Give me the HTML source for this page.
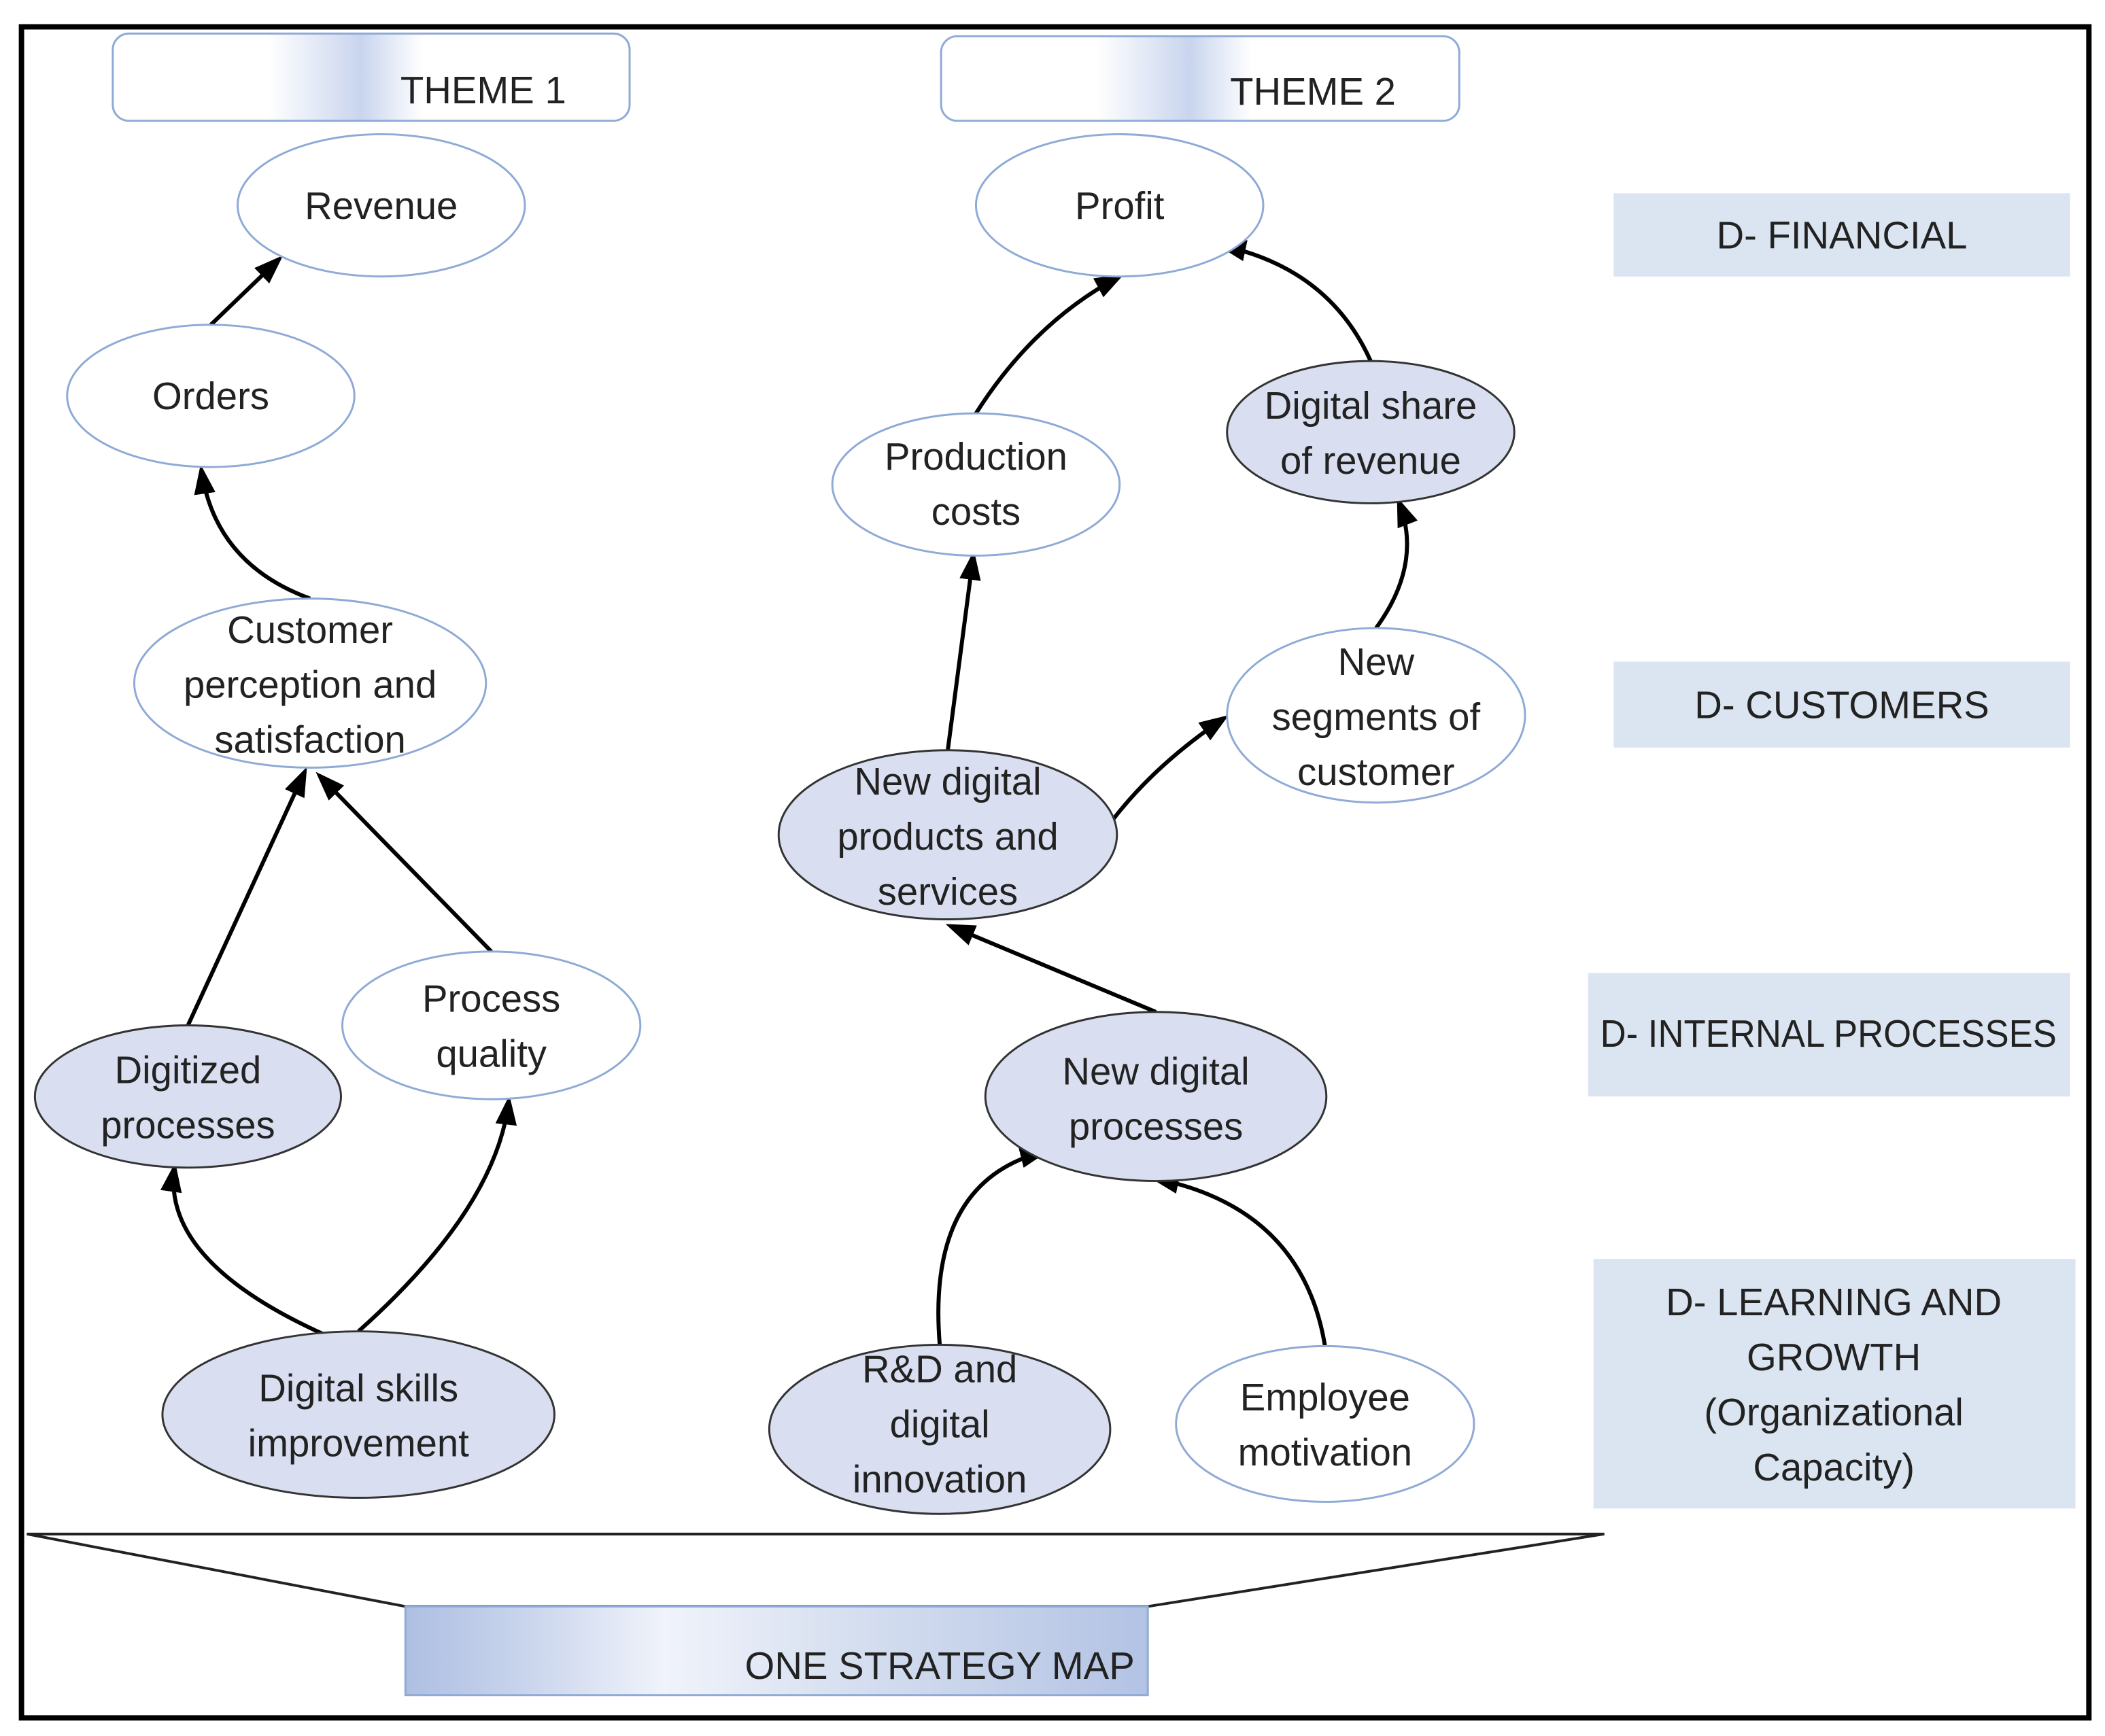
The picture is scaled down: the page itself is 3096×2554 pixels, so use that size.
<!DOCTYPE html>
<html><head><meta charset="utf-8"><style>
html,body{margin:0;padding:0;background:#fff}
svg{display:block}
text{font-family:"Liberation Sans",sans-serif;fill:#222;font-size:28.5px;text-anchor:middle}
</style></head><body>
<svg width="3096" height="2554" viewBox="0 0 1568 1293.5" preserveAspectRatio="none" xmlns="http://www.w3.org/2000/svg">
<defs>
<marker id="a" markerWidth="22" markerHeight="16" refX="18" refY="8" orient="auto" markerUnits="userSpaceOnUse"><path d="M0,0 L22,8 L0,16 z" fill="#000"/></marker>
<linearGradient id="g1" x1="0" x2="1"><stop offset="0" stop-color="#fff"/><stop offset="0.3" stop-color="#fff"/><stop offset="0.48" stop-color="#c9d5ee"/><stop offset="0.6" stop-color="#fff"/><stop offset="1" stop-color="#fff"/></linearGradient>
<linearGradient id="g2" x1="0" x2="1"><stop offset="0" stop-color="#aebfe2"/><stop offset="0.15" stop-color="#c7d3ec"/><stop offset="0.35" stop-color="#f0f3fa"/><stop offset="0.6" stop-color="#d6dff0"/><stop offset="1" stop-color="#b3c3e4"/></linearGradient>
</defs>
<rect x="16" y="20" width="1540" height="1260" fill="#fff" stroke="#000" stroke-width="4"/>
<rect x="84" y="25" width="385" height="65" rx="12" fill="url(#g1)" stroke="#8eaad6" stroke-width="1.5"/>
<text x="360" y="77">THEME 1</text>
<rect x="701" y="27" width="386" height="63" rx="12" fill="url(#g1)" stroke="#8eaad6" stroke-width="1.5"/>
<text x="978" y="78">THEME 2</text>
<rect x="1202" y="144" width="340" height="62" fill="#dbe5f1"/>
<text x="1372" y="185">D- FINANCIAL</text>
<rect x="1202" y="493" width="340" height="64" fill="#dbe5f1"/>
<text x="1372" y="535">D- CUSTOMERS</text>
<rect x="1183" y="725" width="359" height="92" fill="#dbe5f1"/>
<text x="1362" y="780" textLength="340" lengthAdjust="spacingAndGlyphs">D- INTERNAL PROCESSES</text>
<rect x="1187" y="938" width="359" height="186" fill="#dbe5f1"/>
<text x="1366" y="980">D- LEARNING AND</text>
<text x="1366" y="1021">GROWTH</text>
<text x="1366" y="1062">(Organizational</text>
<text x="1366" y="1103">Capacity)</text>
<path d="M20,1143 L1195,1143 L855,1197 L302,1197 Z" fill="#fff" stroke="#222" stroke-width="2"/>
<rect x="302" y="1197" width="553" height="66" fill="url(#g2)" stroke="#8eaad6" stroke-width="1.5"/>
<text x="700" y="1251">ONE STRATEGY MAP</text>
<g stroke="#000" stroke-width="3" fill="none" marker-end="url(#a)">
<path d="M157,242 L208,193"/>
<path d="M231,446 Q160,420 150,350"/>
<path d="M140,764 L227,575"/>
<path d="M366,709 L238,578"/>
<path d="M243,995 Q120,940 130,870"/>
<path d="M267,992 Q370,900 379,820"/>
<path d="M727,308 Q770,240 834,206"/>
<path d="M1021,269 Q990,200 910,183"/>
<path d="M706,559 L725,414"/>
<path d="M1025,468 Q1060,420 1042,374"/>
<path d="M828,612 Q860,570 912,535"/>
<path d="M861,754 L708,690"/>
<path d="M700,1002 Q690,880 778,858"/>
<path d="M987,1003 Q970,900 860,878"/>
</g>
<g stroke-width="1.5">
<ellipse cx="284" cy="153" rx="107" ry="53" fill="#fff" stroke="#8eaad6"/>
<ellipse cx="157" cy="295" rx="107" ry="53" fill="#fff" stroke="#8eaad6"/>
<ellipse cx="231" cy="509" rx="131" ry="63" fill="#fff" stroke="#8eaad6"/>
<ellipse cx="140" cy="817" rx="114" ry="53" fill="#d9dff0" stroke="#333"/>
<ellipse cx="366" cy="764" rx="111" ry="55" fill="#fff" stroke="#8eaad6"/>
<ellipse cx="267" cy="1054" rx="146" ry="62" fill="#d9dff0" stroke="#333"/>
<ellipse cx="834" cy="153" rx="107" ry="53" fill="#fff" stroke="#8eaad6"/>
<ellipse cx="727" cy="361" rx="107" ry="53" fill="#fff" stroke="#8eaad6"/>
<ellipse cx="1021" cy="322" rx="107" ry="53" fill="#d9dff0" stroke="#333"/>
<ellipse cx="1025" cy="533" rx="111" ry="65" fill="#fff" stroke="#8eaad6"/>
<ellipse cx="706" cy="622" rx="126" ry="63" fill="#d9dff0" stroke="#333"/>
<ellipse cx="861" cy="817" rx="127" ry="63" fill="#d9dff0" stroke="#333"/>
<ellipse cx="700" cy="1065" rx="127" ry="63" fill="#d9dff0" stroke="#333"/>
<ellipse cx="987" cy="1061" rx="111" ry="58" fill="#fff" stroke="#8eaad6"/>
</g>
<text x="284" y="163">Revenue</text>
<text x="157" y="305">Orders</text>
<text x="231" y="479">Customer</text><text x="231" y="520">perception and</text><text x="231" y="561">satisfaction</text>
<text x="140" y="807">Digitized</text><text x="140" y="848">processes</text>
<text x="366" y="754">Process</text><text x="366" y="795">quality</text>
<text x="267" y="1044">Digital skills</text><text x="267" y="1085">improvement</text>
<text x="834" y="163">Profit</text>
<text x="727" y="350">Production</text><text x="727" y="391">costs</text>
<text x="1021" y="312">Digital share</text><text x="1021" y="353">of revenue</text>
<text x="1025" y="503">New</text><text x="1025" y="544">segments of</text><text x="1025" y="585">customer</text>
<text x="706" y="592">New digital</text><text x="706" y="633">products and</text><text x="706" y="674">services</text>
<text x="861" y="808">New digital</text><text x="861" y="849">processes</text>
<text x="700" y="1030">R&amp;D and</text><text x="700" y="1071">digital</text><text x="700" y="1112">innovation</text>
<text x="987" y="1051">Employee</text><text x="987" y="1092">motivation</text>
</svg>
</body></html>
